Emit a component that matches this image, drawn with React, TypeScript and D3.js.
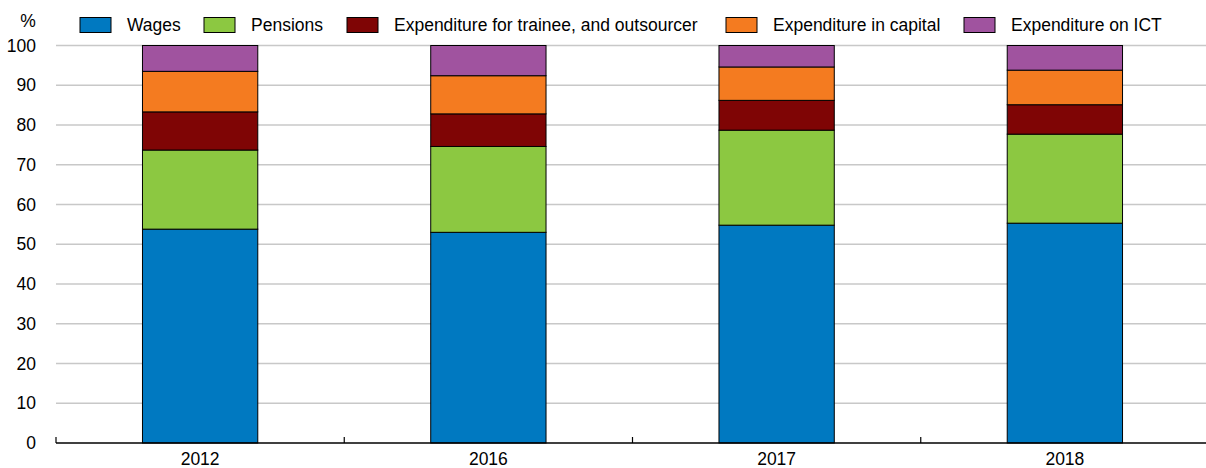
import React from "react";
import * as d3 from "d3";

const years = ["2012", "2016", "2017", "2018"];
const seriesNames = [
  "Wages",
  "Pensions",
  "Expenditure for trainee, and outsourcer",
  "Expenditure in capital",
  "Expenditure on ICT",
];
const wages = [53.8, 53.0, 54.8, 55.3];
const pensions = [19.9, 21.6, 23.9, 22.4];
const trainee = [9.6, 8.2, 7.5, 7.4];
const capital = [10.2, 9.6, 8.4, 8.7];
const ict = [6.5, 7.6, 5.4, 6.2];
const yTicks = [0, 10, 20, 30, 40, 50, 60, 70, 80, 90, 100];

const colors = ["#0079c1", "#8cc841", "#7f0505", "#f47b20", "#a0539f"];

export default function App() {
  const W = 1206;
  const H = 468;
  const left = 56;
  const right = 1209;
  const x = d3.scaleBand<string>().domain(years).range([left, right]).padding(0);
  const y = d3.scaleLinear().domain([0, 100]).range([443, 45.5]);
  const values = [wages, pensions, trainee, capital, ict];
  const rows = years.map((yr, i) => {
    const r: any = { year: yr };
    seriesNames.forEach((s, j) => (r[s] = values[j][i]));
    return r;
  });
  const stacked = d3.stack<any>().keys(seriesNames)(rows);
  const bw = x.bandwidth() * 0.4;
  const font = "'Liberation Sans', Arial, sans-serif";
  const fs = 17.5;

  const legendX = [80, 204, 347, 726, 964];

  return (
    <svg width={W} height={H} style={{ position: "absolute", left: 0, top: 0 }} fontFamily={font}>
      {yTicks.map((t) => (
        <g key={t}>
          {t > 0 && (
            <line x1={left} x2={W} y1={y(t)} y2={y(t)} stroke="#c8c8c8" strokeWidth={1.3} />
          )}
          <text x={36} y={y(t)} dy="0.35em" textAnchor="end" fontSize={fs} fill="#000">
            {t}
          </text>
        </g>
      ))}
      <text x={28} y={21} dy="0.35em" textAnchor="middle" fontSize={fs} fill="#000">
        %
      </text>
      {stacked.map((layer, j) => (
        <g key={layer.key}>
          {layer.map((d, i) => (
            <rect
              key={i}
              x={(x(years[i]) as number) + x.bandwidth() / 2 - bw / 2}
              y={y(d[1])}
              width={bw}
              height={y(d[0]) - y(d[1])}
              fill={colors[j]}
              stroke="#000"
              strokeWidth={1}
            />
          ))}
        </g>
      ))}
      <line x1={left} x2={W} y1={y(0)} y2={y(0)} stroke="#000" strokeWidth={1.5} />
      {[...years.map((yr) => x(yr) as number), right].map((tx, i) => (
        <line key={i} x1={tx} x2={tx} y1={y(0)} y2={y(0) - 6} stroke="#000" strokeWidth={1.2} />
      ))}
      {years.map((yr) => (
        <text
          key={yr}
          x={(x(yr) as number) + x.bandwidth() / 2}
          y={464.5}
          textAnchor="middle"
          fontSize={fs}
          fill="#000"
        >
          {yr}
        </text>
      ))}
      {seriesNames.map((s, j) => (
        <g key={s}>
          <rect x={legendX[j]} y={17.5} width={31} height={15} fill={colors[j]} stroke="#000" strokeWidth={1} />
          <text x={legendX[j] + 47} y={25} dy="0.35em" fontSize={fs} fill="#000">
            {s}
          </text>
        </g>
      ))}
    </svg>
  );
}
